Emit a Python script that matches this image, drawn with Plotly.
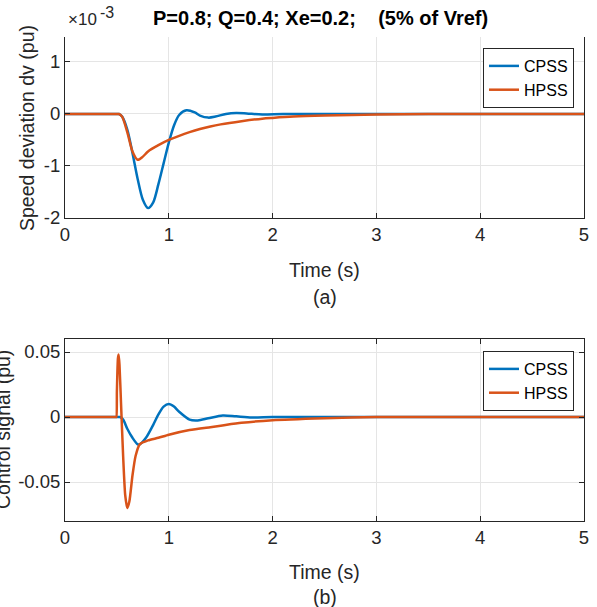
import plotly.graph_objects as go

# ---- data ----
t_cpss_a = [0, 0.3, 0.45, 0.5, 0.52, 0.55, 0.6, 0.65, 0.7, 0.75, 0.8, 0.85, 0.9, 0.95, 1.0, 1.05, 1.1, 1.17, 1.25, 1.3, 1.38, 1.45, 1.55, 1.65, 1.75, 1.9, 2.1, 2.5, 3.0, 4.0, 5.0]
cpss_a = [0, 0, 0, 0, 0, -0.05, -0.3, -0.75, -1.25, -1.65, -1.81, -1.7, -1.35, -0.95, -0.55, -0.22, -0.02, 0.07, 0.03, -0.03, -0.07, -0.05, 0.0, 0.02, 0.01, -0.01, 0.0, 0.0, 0.0, 0.0, 0.0]

t_hpss_a = [0, 0.3, 0.45, 0.5, 0.52, 0.55, 0.6, 0.65, 0.7, 0.75, 0.8, 0.9, 1.0, 1.1, 1.2, 1.3, 1.4, 1.5, 1.7, 1.9, 2.0, 2.2, 2.5, 3.0, 3.5, 4.0, 5.0]
hpss_a = [0, 0, 0, 0, 0, -0.05, -0.35, -0.72, -0.88, -0.82, -0.72, -0.6, -0.5, -0.42, -0.35, -0.29, -0.24, -0.2, -0.14, -0.09, -0.075, -0.05, -0.03, -0.01, 0.0, 0.0, 0.0]

t_cpss_b = [0, 0.3, 0.45, 0.5, 0.53, 0.56, 0.6, 0.65, 0.7, 0.72, 0.78, 0.85, 0.9, 0.95, 1.0, 1.05, 1.1, 1.2, 1.28, 1.38, 1.52, 1.65, 1.8, 2.0, 2.5, 3.0, 4.0, 5.0]
cpss_b = [0, 0, 0, 0, 0, -0.002, -0.009, -0.016, -0.021, -0.021, -0.016, -0.006, 0.002, 0.008, 0.010, 0.008, 0.004, -0.002, -0.0026, -0.001, 0.0012, 0.0005, -0.0003, 0.0, 0.0, 0.0, 0.0, 0.0]

t_hpss_b = [0, 0.3, 0.45, 0.48, 0.49, 0.495, 0.50, 0.51, 0.517, 0.525, 0.54, 0.56, 0.58, 0.6, 0.62, 0.65, 0.68, 0.72, 0.8, 0.9, 1.0, 1.2, 1.4, 1.5, 1.7, 2.0, 2.5, 3.0, 4.0, 5.0]
hpss_b = [0, 0, 0, 0, 0, 0, 0.02, 0.045, 0.048, 0.04, 0.01, -0.03, -0.06, -0.07, -0.065, -0.045, -0.03, -0.021, -0.018, -0.016, -0.0136, -0.010, -0.0078, -0.0067, -0.0045, -0.0025, -0.001, 0.0, 0.0, 0.0]

x_ticks = [0, 1, 2, 3, 4, 5]
ya_ticks = [-2, -1, 0, 1]
ya_labels = ["-2", "-1", "0", "1"]
yb_ticks = [-0.05, 0, 0.05]
yb_labels = ["-0.05", "0", "0.05"]

BLUE = "#0072BD"
ORANGE = "#D95319"
AX = "#262626"
GRID = "#e5e5e5"
FONT = "Liberation Sans, Arial, Helvetica, sans-serif"

W, H = 597, 607
def px(x): return x / W
def py(y): return 1 - y / H

fig = go.Figure()
lw = 2.5
fig.add_trace(go.Scatter(x=t_cpss_a, y=cpss_a, name="CPSS", mode="lines",
                         line=dict(color=BLUE, width=lw, shape="spline", smoothing=0.8),
                         xaxis="x", yaxis="y", legend="legend"))
fig.add_trace(go.Scatter(x=t_hpss_a, y=hpss_a, name="HPSS", mode="lines",
                         line=dict(color=ORANGE, width=lw, shape="spline", smoothing=0.8),
                         xaxis="x", yaxis="y", legend="legend"))
fig.add_trace(go.Scatter(x=t_cpss_b, y=cpss_b, name="CPSS", mode="lines",
                         line=dict(color=BLUE, width=lw, shape="spline", smoothing=0.8),
                         xaxis="x2", yaxis="y2", legend="legend2"))
fig.add_trace(go.Scatter(x=t_hpss_b, y=hpss_b, name="HPSS", mode="lines",
                         line=dict(color=ORANGE, width=lw, shape="spline", smoothing=0.6),
                         xaxis="x2", yaxis="y2", legend="legend2"))

TICKSIZE = 18.5
common_x = dict(range=[0, 5], tickvals=x_ticks, showgrid=True, gridcolor=GRID, gridwidth=1,
                showline=True, linecolor=AX, linewidth=1, ticks="inside", ticklen=5,
                tickcolor=AX, tickfont=dict(family=FONT, size=TICKSIZE, color=AX), zeroline=False,
                domain=[px(65), px(584)], automargin=False)
common_y = dict(showgrid=True, gridcolor=GRID, gridwidth=1, showline=True, linecolor=AX,
                linewidth=1, ticks="inside", ticklen=5, tickcolor=AX,
                tickfont=dict(family=FONT, size=TICKSIZE, color=AX), zeroline=False,
                automargin=False)

fig.update_layout(
    width=W, height=H, margin=dict(l=0, r=0, t=0, b=0),
    paper_bgcolor="white", plot_bgcolor="white",
    font=dict(family=FONT, color=AX),
    xaxis=dict(common_x, anchor="y", mirror=False),
    yaxis=dict(common_y, range=[-2, 1.48], tickvals=ya_ticks, ticktext=ya_labels, anchor="x",
               domain=[py(218), py(37)], mirror=True),
    xaxis2=dict(common_x, anchor="y2", mirror="ticks"),
    yaxis2=dict(common_y, range=[-0.08, 0.06], tickvals=yb_ticks, ticktext=yb_labels,
                anchor="x2", domain=[py(521), py(339)], mirror="ticks"),
    legend=dict(x=px(483), y=py(48), xanchor="left", yanchor="top",
                bordercolor=AX, borderwidth=1, bgcolor="white",
                font=dict(family=FONT, size=16, color="#000"), tracegroupgap=0),
    legend2=dict(x=px(483), y=py(351), xanchor="left", yanchor="top",
                 bordercolor=AX, borderwidth=1, bgcolor="white",
                 font=dict(family=FONT, size=16, color="#000"), tracegroupgap=0),
    showlegend=True,
)

ann = [
    dict(text="<b>P=0.8; Q=0.4; Xe=0.2;\u00a0\u00a0\u00a0\u00a0(5% of Vref)</b>", x=px(320), y=py(18),
         font=dict(size=20, color="#000")),
    dict(text="\u00d710", x=px(66), y=py(19), xanchor="left", font=dict(size=17, color=AX)),
    dict(text="-3", x=px(98), y=py(13), xanchor="left", font=dict(size=16, color=AX)),
    dict(text="Speed deviation dv (pu)", x=px(27), y=py(128), textangle=-90,
         font=dict(size=19.5, color=AX)),
    dict(text="Control signal (pu)", x=px(3), y=py(430), textangle=-90,
         font=dict(size=19.5, color=AX)),
    dict(text="Time (s)", x=px(325), y=py(270), font=dict(size=19.5, color=AX)),
    dict(text="(a)", x=px(325), y=py(297), font=dict(size=19.5, color=AX)),
    dict(text="Time (s)", x=px(325), y=py(572), font=dict(size=19.5, color=AX)),
    dict(text="(b)", x=px(325), y=py(597), font=dict(size=19.5, color=AX)),
]
for a in ann:
    a.update(xref="paper", yref="paper", showarrow=False)
    a.setdefault("xanchor", "center")
    a.setdefault("yanchor", "middle")
    a["font"]["family"] = FONT
fig.update_layout(annotations=ann)

fig.write_html("out.html", config={"displayModeBar": False},
               post_script="document.body.style.margin='0';document.body.style.overflow='hidden';")
